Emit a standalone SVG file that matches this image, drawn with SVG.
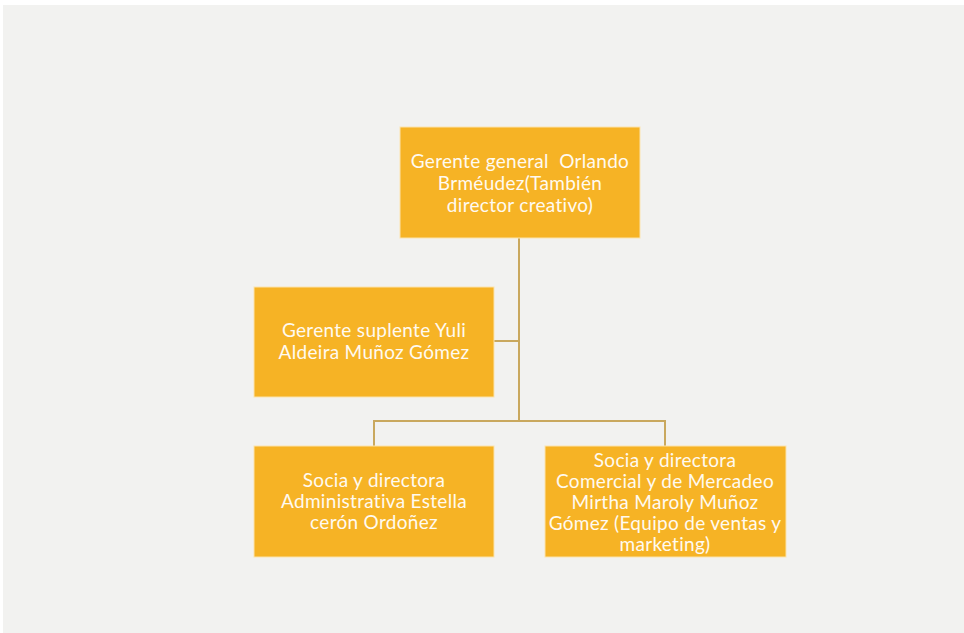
<svg xmlns="http://www.w3.org/2000/svg" width="964" height="633" viewBox="0 0 964 633">
<style>
.box{fill:#f6b325;stroke:#fbe3ad;stroke-width:1}
.t{font-family:"Lato","Liberation Sans",sans-serif;font-size:19px;letter-spacing:0.3px;fill:#fffaf0;text-anchor:middle;white-space:pre}
.c{stroke:#c9a85e;stroke-width:2;fill:none}
</style>
<rect x="0" y="0" width="964" height="633" fill="#ffffff"/>
<rect x="3" y="5" width="961" height="628" fill="#f2f2f0"/>
<g id="connectors">
<path class="c" d="M519 238 V421"/>
<path class="c" d="M494 341 H519"/>
<path class="c" d="M374 446 V421 H665 V446"/>
</g>
<g id="n1">
<rect class="box" x="400" y="127" width="240" height="111"/>
<text class="t" x="520" y="168" xml:space="preserve">Gerente general  Orlando</text>
<text class="t" x="520" y="190">Brméudez(También</text>
<text class="t" x="520" y="212">director creativo)</text>
</g>
<g id="n2">
<rect class="box" x="254" y="287" width="240" height="110"/>
<text class="t" x="374" y="337">Gerente suplente Yuli</text>
<text class="t" x="374" y="359">Aldeira Muñoz Gómez</text>
</g>
<g id="n3">
<rect class="box" x="254" y="446" width="240" height="111"/>
<text class="t" x="374" y="487">Socia y directora</text>
<text class="t" x="374" y="508">Administrativa Estella</text>
<text class="t" x="374" y="529">cerón Ordoñez</text>
</g>
<g id="n4">
<rect class="box" x="545" y="446" width="241" height="111"/>
<text class="t" x="665" y="467">Socia y directora</text>
<text class="t" x="665" y="488">Comercial y de Mercadeo</text>
<text class="t" x="665" y="509">Mirtha Maroly Muñoz</text>
<text class="t" x="665" y="530">Gómez (Equipo de ventas y</text>
<text class="t" x="665" y="551">marketing)</text>
</g>
</svg>
